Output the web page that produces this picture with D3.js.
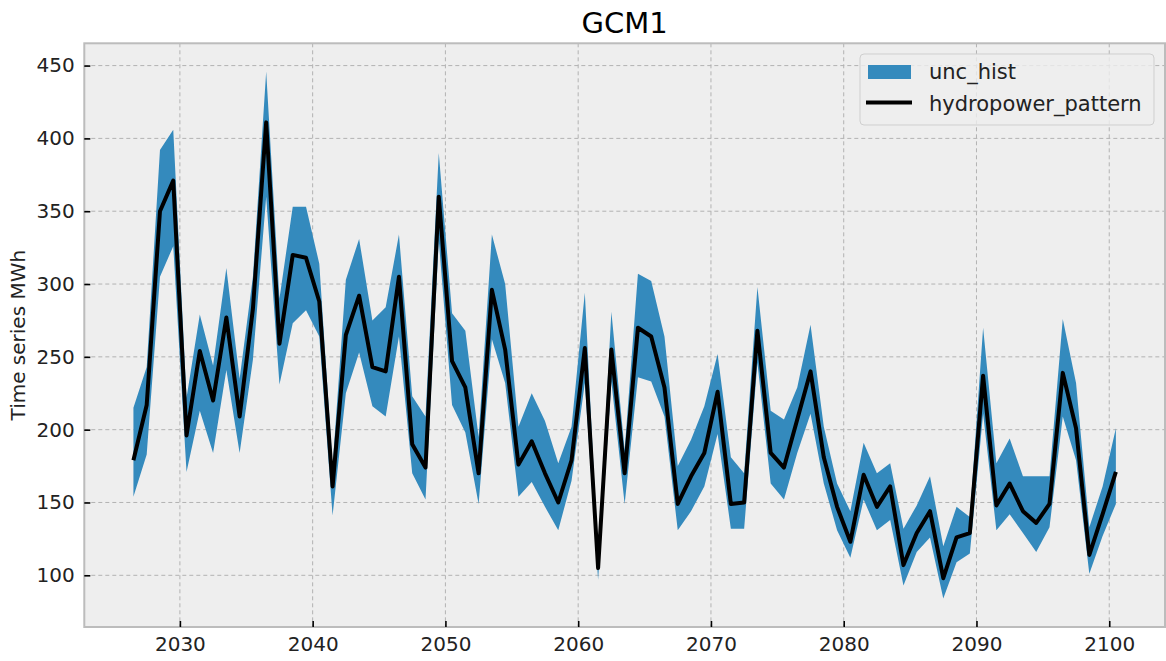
<!DOCTYPE html>
<html>
<head>
<meta charset="utf-8">
<script src="https://cdn.jsdelivr.net/npm/d3@7"></script>
<style>
  html, body { margin: 0; padding: 0; background: #ffffff; }
  svg { display: block; font-family: "DejaVu Sans", sans-serif; }
</style>
</head>
<body>
<svg id="chart" width="1166" height="661"></svg>
<script>
// ---- data ----
const years = [2026,2027,2028,2029,2030,2031,2032,2033,2034,2035,2036,2037,2038,2039,2040,
  2041,2042,2043,2044,2045,2046,2047,2048,2049,2050,2051,2052,2053,2054,2055,2056,2057,2058,2059,2060,
  2061,2062,2063,2064,2065,2066,2067,2068,2069,2070,2071,2072,2073,2074,2075,2076,2077,2078,2079,2080,
  2081,2082,2083,2084,2085,2086,2087,2088,2089,2090,2091,2092,2093,2094,2095,2096,2097,2098,2099,2100];

const hydropowerPattern = [179,217,350,371,196,254,220,277,209,283,411,259,320,318,288,
  161,265,292,243,240,305,190,174,360,247,229,170,296,255,176,192,170,150,179,256,
  105,255,170,270,264,229,149,168,184,226,149,150,268,184,174,207,240,181,147,123,
  169,147,161,107,129,144,98,126,129,237,148,163,144,136,149,239,201,114,142,171];

const uncLower = [154,183,305,326,171,213,184,241,184,248,360,231,273,282,264,
  141,225,253,216,209,264,170,152,330,217,198,149,262,232,154,164,147,131,165,232,
  97,233,149,236,233,209,131,144,161,197,132,132,246,163,152,184,211,163,131,112,
  152,131,138,93,116,126,84,109,115,211,131,142,129,116,133,209,179,101,127,149];

const uncUpper = [215,243,392,406,222,279,244,311,235,305,446,290,353,353,314,
  175,303,331,275,284,334,223,209,390,280,268,195,334,300,202,225,206,177,202,294,
  111,281,186,307,302,264,175,193,216,252,181,170,298,213,207,229,272,202,163,144,
  191,170,177,132,148,168,120,147,140,270,177,194,168,168,168,276,232,133,161,201];

const xTicks = [2030,2040,2050,2060,2070,2080,2090,2100];
const yTicks = [100,150,200,250,300,350,400,450];
const seriesNames = ["unc_hist", "hydropower_pattern"];
const title = "GCM1";
const yLabel = "Time series MWh";

// ---- layout ----
const plot = { left: 84.3, right: 1165, top: 43.3, bottom: 627 };
const blue = "#348ABD";

const rows = years.map((y, i) => ({ t: y + 0.5, v: hydropowerPattern[i], lo: uncLower[i], hi: uncUpper[i] }));

const x = d3.scaleLinear().domain([2022.8, 2104.2]).range([plot.left, plot.right]);
const y = d3.scaleLinear().domain([64.5, 465.3]).range([plot.bottom, plot.top]);

const svg = d3.select("#chart");

// background
svg.append("rect").attr("x", 0).attr("y", 0).attr("width", 1166).attr("height", 661).attr("fill", "#ffffff");
svg.append("rect")
  .attr("x", plot.left).attr("y", plot.top)
  .attr("width", plot.right - plot.left).attr("height", plot.bottom - plot.top)
  .attr("fill", "#eeeeee");

svg.append("defs").append("clipPath").attr("id", "clip")
  .append("rect")
  .attr("x", plot.left).attr("y", plot.top)
  .attr("width", plot.right - plot.left).attr("height", plot.bottom - plot.top);

// grid
const grid = svg.append("g");
grid.selectAll("line.gx").data(xTicks).join("line")
  .attr("x1", d => x(d)).attr("x2", d => x(d))
  .attr("y1", plot.top).attr("y2", plot.bottom)
  .attr("stroke", "#b2b2b2").attr("stroke-width", 1).attr("stroke-dasharray", "4,3");
grid.selectAll("line.gy").data(yTicks).join("line")
  .attr("x1", plot.left).attr("x2", plot.right)
  .attr("y1", d => y(d)).attr("y2", d => y(d))
  .attr("stroke", "#b2b2b2").attr("stroke-width", 1).attr("stroke-dasharray", "4,3");

// band + line
const g = svg.append("g").attr("clip-path", "url(#clip)");
g.append("path").datum(rows)
  .attr("fill", blue)
  .attr("d", d3.area().x(d => x(d.t)).y0(d => y(d.lo)).y1(d => y(d.hi)));
g.append("path").datum(rows)
  .attr("fill", "none").attr("stroke", "#000000").attr("stroke-width", 4)
  .attr("stroke-linejoin", "round").attr("stroke-linecap", "butt")
  .attr("d", d3.line().x(d => x(d.t)).y(d => y(d.v)));

// frame
svg.append("rect")
  .attr("x", plot.left).attr("y", plot.top)
  .attr("width", plot.right - plot.left).attr("height", plot.bottom - plot.top)
  .attr("fill", "none").attr("stroke", "#bcbcbc").attr("stroke-width", 2);

// axes (ticks inward)
const xAxis = d3.axisBottom(x).tickValues(xTicks).tickFormat(d3.format("d")).tickSizeInner(-6).tickSizeOuter(0).tickPadding(14);
const yAxis = d3.axisLeft(y).tickValues(yTicks).tickFormat(d3.format("d")).tickSizeInner(-6).tickSizeOuter(0).tickPadding(14);

const gx = svg.append("g").attr("transform", `translate(0,${plot.bottom})`).call(xAxis);
const gy = svg.append("g").attr("transform", `translate(${plot.left},0)`).call(yAxis);
[gx, gy].forEach(a => {
  a.select(".domain").remove();
  a.selectAll(".tick line").attr("stroke", "#000000").attr("stroke-width", 1.6);
  a.selectAll(".tick text").attr("fill", "#222222").attr("font-size", 20).attr("font-family", "DejaVu Sans");
});
gx.selectAll(".tick text").attr("dy", "0.71em").attr("y", 10);
gy.selectAll(".tick text").attr("x", -9.5);

// title
svg.append("text").attr("x", (plot.left + plot.right) / 2).attr("y", 33)
  .attr("text-anchor", "middle").attr("font-size", 29).attr("fill", "#000000").text(title);

// y label
svg.append("text")
  .attr("transform", `translate(25,${(plot.top + plot.bottom) / 2}) rotate(-90)`)
  .attr("text-anchor", "middle").attr("font-size", 20).attr("fill", "#222222").text(yLabel);

// legend
const lg = svg.append("g");
lg.append("rect").attr("x", 860).attr("y", 54).attr("width", 294).attr("height", 71).attr("rx", 4)
  .attr("fill", "#eeeeee").attr("fill-opacity", 0.8).attr("stroke", "#cfcfcf").attr("stroke-width", 1);
lg.append("rect").attr("x", 868).attr("y", 65).attr("width", 43).attr("height", 14).attr("fill", blue);
lg.append("line").attr("x1", 866).attr("x2", 912).attr("y1", 102.5).attr("y2", 102.5)
  .attr("stroke", "#000000").attr("stroke-width", 4);
lg.selectAll("text.leg").data(seriesNames).join("text")
  .attr("x", 929).attr("y", (d, i) => 79 + i * 32)
  .attr("font-size", 21).attr("fill", "#222222").text(d => d);
</script>
</body>
</html>
